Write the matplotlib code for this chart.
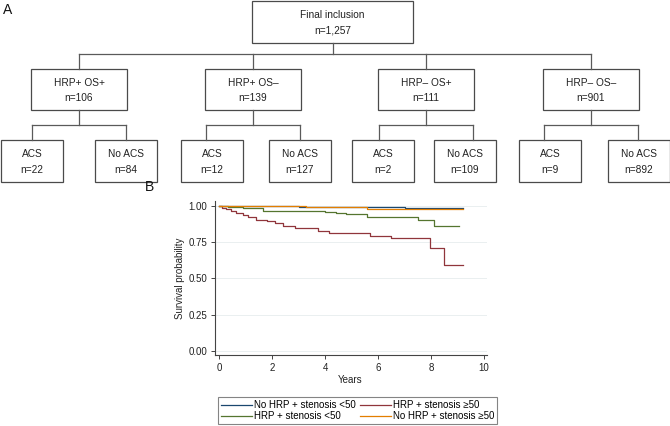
import numpy as np
import matplotlib.pyplot as plt
from matplotlib.patches import Rectangle

plt.rcParams['font.family'] = ['Liberation Sans', 'DejaVu Sans']

# flowchart counts
top_label = 'Final inclusion'
top_n = '1,257'
group_labels = ['HRP+ OS+', 'HRP+ OS–', 'HRP– OS+', 'HRP– OS–']
group_n = [106, 139, 111, 901]
acs_n = [22, 12, 2, 9]
no_acs_n = [84, 127, 109, 892]

# Kaplan-Meier curves (years, survival)
blue_t = [0, 0.5, 1.5, 3.0, 4.5, 5.5, 7.0, 9.2]
blue_s = [1.0, 0.998, 0.996, 0.994, 0.991, 0.988, 0.984, 0.984]
red_t = [0, 0.1, 0.25, 0.45, 0.65, 0.9, 1.1, 1.4, 1.8, 2.1, 2.4, 2.85,
         3.75, 4.15, 5.7, 6.5, 7.95, 8.5, 9.22]
red_s = [1.0, 0.985, 0.975, 0.962, 0.95, 0.935, 0.925, 0.905, 0.893, 0.88,
         0.862, 0.845, 0.828, 0.815, 0.795, 0.776, 0.711, 0.592, 0.592]
green_t = [0, 0.35, 0.9, 1.65, 4.0, 4.4, 4.8, 5.6, 7.5, 8.1, 9.05]
green_s = [1.0, 0.993, 0.985, 0.965, 0.958, 0.948, 0.94, 0.922, 0.9, 0.861, 0.861]
orange_t = [0, 1.0, 3.3, 5.6, 9.2]
orange_s = [1.0, 0.998, 0.993, 0.978, 0.978]

legend_labels = ['No HRP + stenosis <50', 'HRP + stenosis <50',
                 'HRP + stenosis ≥50', 'No HRP + stenosis ≥50']

W, H = 670, 426
fig = plt.figure(figsize=(W / 100, H / 100), dpi=100)

# ---- panel A: flowchart drawn in pixel coordinates
fa = fig.add_axes([0, 0, 1, 1])
fa.set_xlim(0, W)
fa.set_ylim(H, 0)
fa.axis('off')

line_kw = dict(color='#5a5a5a', lw=0.9)
text_kw = dict(ha='center', va='center', fontsize=7.3, color='#222222')


def box(x0, y0, w, h, line1, line2):
    fa.add_patch(Rectangle((x0, y0), w, h, fill=False, ec='#4a4a4a', lw=0.9))
    fa.text(x0 + w / 2, y0 + h * 0.33, line1, **text_kw)
    fa.text(x0 + w / 2, y0 + h * 0.71, line2, **text_kw)


box(252, 1, 161, 42, top_label, 'n=' + top_n)

g_left = [31, 205, 378, 543]
g_w = 96
acs_left = [1, 181, 352, 519]
no_left = [95, 269, 434, 608]
c_w = 62

centers = [x + g_w / 2 for x in g_left]
fa.plot([332.5, 332.5], [43, 54], **line_kw)
fa.plot([centers[0], centers[-1]], [54, 54], **line_kw)
for i in range(4):
    cx = centers[i]
    fa.plot([cx, cx], [54, 69], **line_kw)
    box(g_left[i], 69, g_w, 41, group_labels[i], 'n=%d' % group_n[i])
    fa.plot([cx, cx], [110, 125], **line_kw)
    xl, xr = g_left[i] + 1, g_left[i] + g_w - 1
    fa.plot([xl, xr], [125, 125], **line_kw)
    fa.plot([xl, xl], [125, 140], **line_kw)
    fa.plot([xr, xr], [125, 140], **line_kw)
    box(acs_left[i], 140, c_w, 42, 'ACS', 'n=%d' % acs_n[i])
    box(no_left[i], 140, c_w, 42, 'No ACS', 'n=%d' % no_acs_n[i])

fa.text(3, 10, 'A', fontsize=10, va='center', ha='left', color='#111111')
fa.text(145, 187, 'B', fontsize=10, va='center', ha='left', color='#111111')

# ---- panel B: survival curves
ax = fig.add_axes([214.5 / W, 1 - 355 / H, 272.2 / W, 153.6 / H])
ax.set_xlim(-0.17, 10.1)
ax.set_ylim(-0.028, 1.03)

curves = [(blue_t, blue_s, '#1a476f'), (green_t, green_s, '#55752f'),
          (red_t, red_s, '#90353b'), (orange_t, orange_s, '#e37e00')]
for (t, s, c), lab in zip(curves, legend_labels):
    ax.step(t, s, where='post', color=c, lw=0.9, label=lab)

ax.set_yticks([0, 0.25, 0.5, 0.75, 1.0])
ax.set_yticklabels(['%.2f' % v for v in [0, 0.25, 0.5, 0.75, 1.0]])
ax.set_xticks([0, 2, 4, 6, 8, 10])
ax.yaxis.grid(True, color='#e6ecee', lw=0.6)
ax.set_axisbelow(True)
for sp in ['top', 'right']:
    ax.spines[sp].set_visible(False)
for sp in ['left', 'bottom']:
    ax.spines[sp].set_color('#444444')
    ax.spines[sp].set_linewidth(0.8)
ax.tick_params(axis='both', length=3, width=0.7, color='#444444',
               labelsize=7, labelcolor='#222222')
ax.tick_params(axis='y', pad=2)
ax.tick_params(axis='x', pad=3)
ax.set_xlabel('Years', fontsize=7, color='#222222', labelpad=1.5)
ax.set_ylabel('Survival probability', fontsize=7, color='#222222', labelpad=3)

handles, labels = ax.get_legend_handles_labels()
leg = fig.legend(handles, labels, ncol=2, loc='upper left',
                 bbox_to_anchor=(218 / W, 1 - 397 / H), borderaxespad=0,
                 fontsize=7, frameon=True, fancybox=False, edgecolor='#666666',
                 handlelength=3.2, handletextpad=0.2, columnspacing=0.4,
                 labelspacing=0.15, borderpad=0.3)
leg.get_frame().set_linewidth(0.8)

fig.savefig('out.png', dpi=100)
